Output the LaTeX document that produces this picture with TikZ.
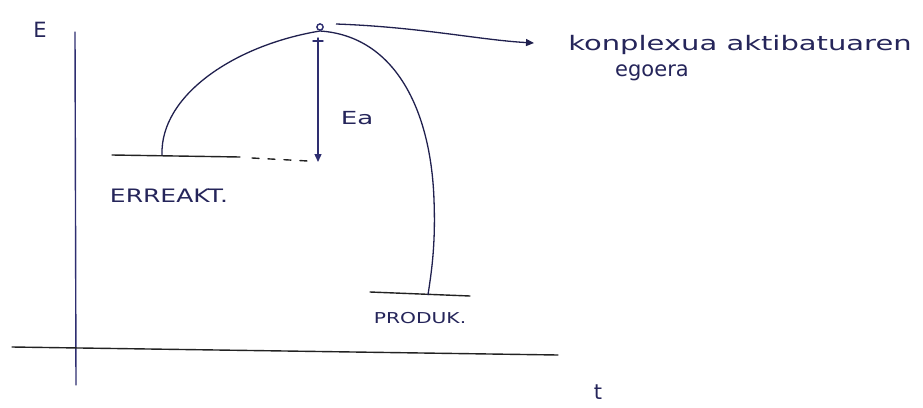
\documentclass[tikz,border=0pt]{standalone}
\usepackage{fontspec}
\setmainfont{DejaVu Sans}
\newfontfamily\handfont[FakeStretch=1.45]{DejaVu Sans}
\newfontfamily\capsfont[FakeStretch=1.35]{DejaVu Sans}
\usetikzlibrary{arrows.meta}
\definecolor{ink}{HTML}{2E2E70}
\definecolor{pen}{HTML}{222222}
\tikzset{
  axisline/.style={draw=ink, line width=1.4pt, line cap=round},
  levelline/.style={draw=pen, line width=1.4pt, line cap=round},
  curveline/.style={draw=ink!70!black, line width=1.3pt},
  lbl/.style={text=ink!80!black, inner sep=1pt},
  tip/.style={-{Triangle[length=8pt,width=7pt]}}
}
\begin{document}
\begin{tikzpicture}[x=1pt,y=-1pt]
\useasboundingbox (0,0) rectangle (923,407);
% axes
\coordinate (vtop) at (75,32);
\coordinate (vbot) at (76,385);
\coordinate (hl) at (12,347);
\coordinate (hr) at (558,355);
\draw[axisline] (vtop) -- (vbot);
\draw[levelline] (hl) -- (hr);
\node[lbl, font=\fontsize{21}{23}\selectfont] (E) at (40,30) {E};
\node[lbl, font=\fontsize{21}{23}\selectfont] (t) at (598,392) {t};
% levels
\coordinate (r1) at (112,155);
\coordinate (r2) at (240,157);
\draw[levelline] (r1) -- (r2);
\coordinate (d1) at (252,158);
\coordinate (d2) at (308,161);
\draw[levelline, dash pattern=on 7pt off 9pt] (d1) -- (d2);
\coordinate (p1) at (370,292);
\coordinate (p2) at (470,296);
\draw[levelline] (p1) -- (p2);
\node[lbl, font=\capsfont\fontsize{18.5}{20}\selectfont] (reakt) at (169,196) {ERREAKT.};
\node[lbl, font=\capsfont\fontsize{15}{17}\selectfont] (produk) at (420,318) {PRODUK.};
% curve
\coordinate (cstart) at (162,155);
\coordinate (peak) at (320,31);
\coordinate (cend) at (428,295);
\draw[curveline] (cstart) .. controls (160,95) and (235,45) .. (peak)
   .. controls (395,36) and (431,110) .. (434,200)
   .. controls (436,250) and (430,280) .. (cend);
% activated complex dot
\node[circle, draw=ink, line width=1.4pt, inner sep=2.2pt] (dot) at (320,27) {};
% Ea arrow
\coordinate (eatop) at (318,38);
\coordinate (eabot) at (318,162);
\draw[axisline, tip] (eatop) -- (eabot);
\draw[axisline] (313,41) -- (323,41);
\node[lbl, font=\handfont\fontsize{18}{20}\selectfont] (Ea) at (357,118) {Ea};
% pointer arrow
\coordinate (pstart) at (336,24);
\coordinate (ptip) at (534,43);
\draw[curveline, tip] (pstart) .. controls (420,27) and (480,40) .. (ptip);
\node[lbl, font=\handfont\fontsize{20}{22}\selectfont] (kon) at (740,45) {konplexua aktibatuaren};
\node[lbl, font=\fontsize{21}{23}\selectfont] (ego) at (652,73) {egoera};
\end{tikzpicture}
\end{document}
